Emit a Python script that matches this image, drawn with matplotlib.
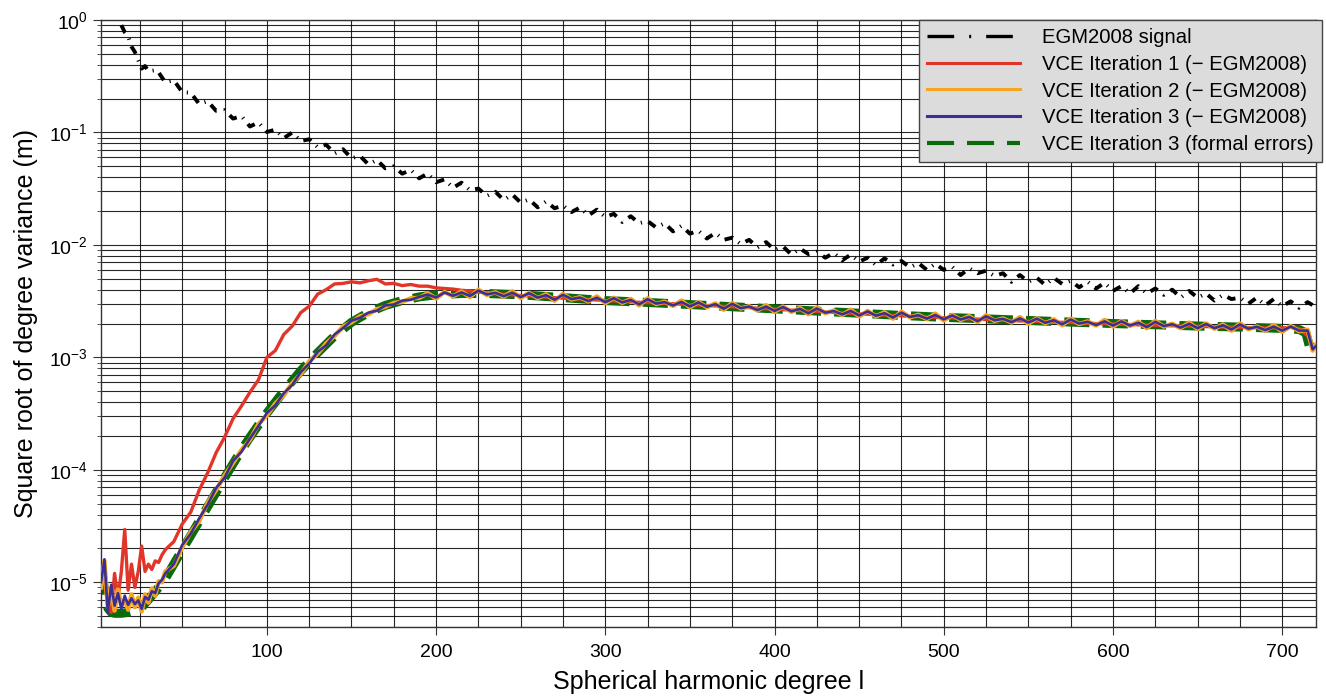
import numpy as np
import matplotlib
matplotlib.use('Agg')
import matplotlib.pyplot as plt
from matplotlib.lines import Line2D
from matplotlib.ticker import MultipleLocator, LogLocator, NullFormatter

plt.rcParams['font.family'] = ['Liberation Sans', 'DejaVu Sans']
plt.rcParams['mathtext.fontset'] = 'custom'
plt.rcParams['mathtext.rm'] = 'Liberation Sans'
plt.rcParams['mathtext.it'] = 'Liberation Sans:italic'
plt.rcParams['mathtext.bf'] = 'Liberation Sans:bold'

# ---- degree axes for each curve
deg_sig = np.r_[14:31:2, 35:721:5]
deg_vce = np.r_[2:41:2, 45:716:5, 718, 720]
deg_formal = [2, 3, 4, 5, 6, 8, 10, 14, 18, 22, 26, 30, 35, 40, 45, 50, 55, 60, 65, 70,
              75, 80, 85, 90, 95, 100, 110, 120, 130, 140, 150, 160, 170, 180, 190, 200,
              215, 230, 250, 275, 300, 325, 350, 375, 400, 425, 450, 475, 500, 525, 550,
              575, 600, 625, 650, 675, 700, 710, 714, 717, 720]

# EGM2008 signal (m)
egm_signal = [0.90, 0.78, 0.72, 0.58, 0.52, 0.44, 0.37, 0.39, 0.35,
              0.360, 0.279, 0.292, 0.228, 0.226, 0.179, 0.190, 0.156, 0.158, 0.133,
              0.140, 0.113, 0.123, 0.101, 0.106, 0.089, 0.100, 0.084, 0.087, 0.074,
              0.078, 0.065, 0.071, 0.059, 0.062, 0.052, 0.057, 0.048, 0.050, 0.043,
              0.0466, 0.0391, 0.0432, 0.0361, 0.0383, 0.0322, 0.0358, 0.0307, 0.0317, 0.0273,
              0.0297, 0.0251, 0.0281, 0.0238, 0.0254, 0.0216, 0.0244, 0.0212, 0.0224, 0.0196,
              0.0215, 0.0183, 0.0206, 0.0177, 0.0189, 0.0160, 0.0180, 0.0156, 0.0163, 0.0143,
              0.0156, 0.0132, 0.0148, 0.0126, 0.0134, 0.0114, 0.0128, 0.0111, 0.0116, 0.0102,
              0.0111, 0.0095, 0.0106, 0.0090, 0.0097, 0.0082, 0.0093, 0.0083, 0.0087, 0.0077,
              0.0085, 0.0073, 0.0082, 0.0071, 0.0077, 0.0066, 0.0076, 0.0067, 0.0072, 0.0063,
              0.0069, 0.0060, 0.0068, 0.0060, 0.0064, 0.0054, 0.0062, 0.0056, 0.0059, 0.0053,
              0.0056, 0.0047, 0.0054, 0.0047, 0.0051, 0.0044, 0.0051, 0.0045, 0.0048, 0.0042,
              0.0047, 0.0041, 0.0046, 0.0039, 0.0043, 0.0037, 0.0043, 0.0037, 0.0041, 0.0036,
              0.0040, 0.0034, 0.0039, 0.0034, 0.0037, 0.0032, 0.0036, 0.0033, 0.0034, 0.0030,
              0.0034, 0.0029, 0.0033, 0.00285, 0.00315, 0.00276, 0.0031, 0.0028]

# VCE iteration 1 minus EGM2008
vce_it1 = [9.0e-6, 1.15e-5, 6.0e-6, 5.4e-6, 1.2e-5, 7.2e-6, 1.25e-5, 2.95e-5, 8.5e-6, 1.45e-5,
           9.0e-6, 1.25e-5, 2.1e-5, 1.25e-5, 1.45e-5, 1.3e-5, 1.55e-5, 1.5e-5, 1.75e-5, 1.95e-5,
           2.3e-5, 3.3e-5, 4.2e-5, 6.6e-5, 9.4e-5, 1.42e-4, 1.95e-4, 2.85e-4, 3.7e-4, 4.9e-4,
           6.3e-4, 1.0e-3, 1.15e-3, 1.6e-3, 1.9e-3, 2.5e-3, 2.85e-3, 3.65e-3, 4.0e-3, 4.5e-3,
           4.55e-3, 4.7e-3, 4.6e-3, 4.8e-3, 4.95e-3, 4.5e-3, 4.55e-3, 4.35e-3, 4.45e-3, 4.3e-3,
           4.3e-3, 4.15e-3, 4.1e-3, 4.05e-3, 3.95e-3, 3.9e-3, 3.8e-3, 3.75e-3, 3.7e-3, 3.65e-3,
           3.6e-3, 3.55e-3, 3.52e-3, 3.47e-3, 3.44e-3, 3.4e-3, 3.36e-3, 3.32e-3, 3.3e-3, 3.27e-3,
           3.24e-3, 3.2e-3, 3.18e-3, 3.15e-3, 3.12e-3, 3.09e-3, 3.07e-3, 3.04e-3, 3.02e-3, 3.0e-3,
           2.97e-3, 2.94e-3, 2.92e-3, 2.89e-3, 2.87e-3, 2.84e-3, 2.82e-3, 2.79e-3, 2.77e-3, 2.74e-3,
           2.71e-3, 2.69e-3, 2.66e-3, 2.63e-3, 2.61e-3, 2.58e-3, 2.56e-3, 2.53e-3, 2.51e-3, 2.49e-3,
           2.47e-3, 2.44e-3, 2.42e-3, 2.4e-3, 2.38e-3, 2.36e-3, 2.34e-3, 2.32e-3, 2.3e-3, 2.29e-3,
           2.27e-3, 2.25e-3, 2.24e-3, 2.22e-3, 2.2e-3, 2.19e-3, 2.17e-3, 2.16e-3, 2.14e-3, 2.13e-3,
           2.11e-3, 2.1e-3, 2.09e-3, 2.07e-3, 2.06e-3, 2.05e-3, 2.04e-3, 2.02e-3, 2.01e-3, 2.0e-3,
           1.99e-3, 1.98e-3, 1.97e-3, 1.96e-3, 1.95e-3, 1.94e-3, 1.93e-3, 1.92e-3, 1.91e-3, 1.9e-3,
           1.89e-3, 1.89e-3, 1.88e-3, 1.87e-3, 1.86e-3, 1.86e-3, 1.85e-3, 1.84e-3, 1.84e-3, 1.83e-3,
           1.83e-3, 1.83e-3, 1.85e-3, 1.8e-3, 1.55e-3,
           1.3e-3, 1.25e-3]

# VCE iteration 2 minus EGM2008
vce_it2 = [9.0e-6, 1.55e-5, 6.0e-6, 8.8e-6, 5.6e-6, 8.6e-6, 6.2e-6, 7.0e-6, 5.7e-6, 7.8e-6,
           6.0e-6, 7.3e-6, 5.5e-6, 7.8e-6, 6.6e-6, 8.8e-6, 7.6e-6, 1.02e-5, 1.0e-5, 1.25e-5,
           1.4e-5, 2.05e-5, 2.8e-5, 3.5e-5, 5.1e-5, 6.6e-5, 8.9e-5, 1.15e-4, 1.5e-4, 1.85e-4,
           2.55e-4, 3.05e-4, 3.9e-4, 4.6e-4, 5.9e-4, 7.1e-4, 9.2e-4, 1.08e-3, 1.33e-3, 1.55e-3,
           1.88e-3, 2.05e-3, 2.32e-3, 2.42e-3, 2.68e-3, 2.82e-3, 3.05e-3, 3.12e-3, 3.35e-3, 3.38e-3,
           3.72e-3, 3.34e-3, 3.82e-3, 3.49e-3, 3.85e-3, 3.44e-3, 4.00e-3, 3.59e-3, 3.79e-3, 3.47e-3,
           3.87e-3, 3.37e-3, 3.75e-3, 3.36e-3, 3.64e-3, 3.19e-3, 3.67e-3, 3.27e-3, 3.43e-3, 3.14e-3,
           3.49e-3, 3.04e-3, 3.39e-3, 3.05e-3, 3.31e-3, 2.90e-3, 3.35e-3, 2.98e-3, 3.13e-3, 2.87e-3,
           3.20e-3, 2.78e-3, 3.11e-3, 2.79e-3, 3.02e-3, 2.65e-3, 3.05e-3, 2.72e-3, 2.85e-3, 2.61e-3,
           2.91e-3, 2.54e-3, 2.83e-3, 2.54e-3, 2.75e-3, 2.42e-3, 2.78e-3, 2.47e-3, 2.61e-3, 2.38e-3,
           2.66e-3, 2.31e-3, 2.59e-3, 2.32e-3, 2.52e-3, 2.21e-3, 2.55e-3, 2.27e-3, 2.39e-3, 2.19e-3,
           2.45e-3, 2.13e-3, 2.39e-3, 2.15e-3, 2.33e-3, 2.06e-3, 2.37e-3, 2.11e-3, 2.22e-3, 2.04e-3,
           2.28e-3, 1.99e-3, 2.23e-3, 2.01e-3, 2.18e-3, 1.93e-3, 2.21e-3, 1.98e-3, 2.09e-3, 1.92e-3,
           2.15e-3, 1.88e-3, 2.11e-3, 1.90e-3, 2.07e-3, 1.82e-3, 2.11e-3, 1.88e-3, 1.99e-3, 1.82e-3,
           2.04e-3, 1.79e-3, 2.00e-3, 1.80e-3, 1.96e-3, 1.73e-3, 2.00e-3, 1.78e-3, 1.88e-3, 1.73e-3,
           1.94e-3, 1.69e-3, 1.90e-3, 1.71e-3, 1.76e-3,
           1.15e-3, 1.3e-3]

# VCE iteration 3 minus EGM2008
vce_it3 = [1.0e-5, 1.6e-5, 5.4e-6, 9.5e-6, 6.2e-6, 8.0e-6, 5.8e-6, 7.6e-6, 6.3e-6, 7.2e-6,
           6.4e-6, 6.9e-6, 5.8e-6, 7.4e-6, 7.0e-6, 8.3e-6, 8.0e-6, 9.8e-6, 1.05e-5, 1.2e-5,
           1.45e-5, 2.15e-5, 2.7e-5, 3.7e-5, 4.9e-5, 6.9e-5, 8.5e-5, 1.2e-4, 1.45e-4, 1.9e-4,
           2.45e-4, 3.2e-4, 3.75e-4, 4.8e-4, 5.7e-4, 7.4e-4, 8.8e-4, 1.12e-3, 1.28e-3, 1.6e-3,
           1.82e-3, 2.12e-3, 2.25e-3, 2.5e-3, 2.6e-3, 2.9e-3, 2.95e-3, 3.2e-3, 3.25e-3, 3.45e-3,
           3.62e-3, 3.41e-3, 3.78e-3, 3.53e-3, 3.78e-3, 3.52e-3, 3.92e-3, 3.63e-3, 3.75e-3, 3.50e-3,
           3.76e-3, 3.44e-3, 3.72e-3, 3.40e-3, 3.57e-3, 3.26e-3, 3.60e-3, 3.30e-3, 3.40e-3, 3.17e-3,
           3.39e-3, 3.10e-3, 3.36e-3, 3.08e-3, 3.24e-3, 2.96e-3, 3.29e-3, 3.01e-3, 3.10e-3, 2.90e-3,
           3.11e-3, 2.84e-3, 3.08e-3, 2.82e-3, 2.97e-3, 2.71e-3, 2.99e-3, 2.74e-3, 2.83e-3, 2.64e-3,
           2.83e-3, 2.59e-3, 2.80e-3, 2.57e-3, 2.70e-3, 2.47e-3, 2.72e-3, 2.50e-3, 2.58e-3, 2.41e-3,
           2.59e-3, 2.36e-3, 2.56e-3, 2.35e-3, 2.47e-3, 2.26e-3, 2.50e-3, 2.29e-3, 2.37e-3, 2.21e-3,
           2.38e-3, 2.18e-3, 2.36e-3, 2.17e-3, 2.29e-3, 2.10e-3, 2.32e-3, 2.14e-3, 2.20e-3, 2.06e-3,
           2.22e-3, 2.04e-3, 2.21e-3, 2.03e-3, 2.14e-3, 1.97e-3, 2.17e-3, 2.00e-3, 2.07e-3, 1.94e-3,
           2.09e-3, 1.92e-3, 2.09e-3, 1.92e-3, 2.03e-3, 1.86e-3, 2.07e-3, 1.90e-3, 1.97e-3, 1.84e-3,
           1.99e-3, 1.82e-3, 1.98e-3, 1.82e-3, 1.93e-3, 1.77e-3, 1.96e-3, 1.80e-3, 1.87e-3, 1.75e-3,
           1.88e-3, 1.73e-3, 1.88e-3, 1.73e-3, 1.73e-3,
           1.18e-3, 1.26e-3]

# VCE iteration 3 formal errors
vce_formal = [1.3e-5, 1.1e-5, 8.5e-6, 6.8e-6, 5.9e-6, 5.4e-6, 5.3e-6, 5.3e-6, 5.4e-6, 5.6e-6,
              6.0e-6, 7.0e-6, 8.6e-6, 1.08e-5, 1.45e-5, 1.95e-5, 2.6e-5, 3.5e-5, 4.7e-5, 6.3e-5,
              8.5e-5, 1.13e-4, 1.5e-4, 1.95e-4, 2.5e-4, 3.2e-4, 5.0e-4, 7.6e-4, 1.1e-3, 1.55e-3,
              2.05e-3, 2.5e-3, 2.9e-3, 3.2e-3, 3.45e-3, 3.6e-3, 3.7e-3, 3.7e-3, 3.6e-3, 3.4e-3,
              3.2e-3, 3.08e-3, 2.95e-3, 2.82e-3, 2.7e-3, 2.58e-3, 2.47e-3, 2.36e-3, 2.27e-3, 2.2e-3,
              2.13e-3, 2.06e-3, 2.0e-3, 1.95e-3, 1.9e-3, 1.86e-3, 1.81e-3, 1.77e-3, 1.65e-3, 1.1e-3,
              1.2e-3]

labels = ['EGM2008 signal',
          'VCE Iteration 1 (\u2212 EGM2008)',
          'VCE Iteration 2 (\u2212 EGM2008)',
          'VCE Iteration 3 (\u2212 EGM2008)',
          'VCE Iteration 3 (formal errors)']
colors = ['black', '#e2352a', '#f7a51f', '#3b2e96', '#0a6b0a']

fig = plt.figure(figsize=(13.26, 6.96), dpi=100)
ax = fig.add_axes([0.0762, 0.0991, 0.9163, 0.8721])

ax.plot(deg_formal, vce_formal, color=colors[4], lw=6.5, dashes=(2.8, 1.45), zorder=2)
ax.plot(deg_vce, vce_it1, color=colors[1], lw=2.4, zorder=3)
ax.plot(deg_vce, vce_it2, color=colors[2], lw=3.2, zorder=4)
ax.plot(deg_vce, vce_it3, color=colors[3], lw=1.9, zorder=5)
ax.plot(deg_sig, egm_signal, color='black', lw=2.8, dashes=(2.2, 1.8, 0.3, 1.8), zorder=6)

ax.set_yscale('log')
ax.set_xlim(2, 720)
ax.set_ylim(4e-6, 1)

ax.xaxis.set_major_locator(MultipleLocator(100))
ax.xaxis.set_minor_locator(MultipleLocator(25))
ax.yaxis.set_major_locator(LogLocator(base=10, numticks=12))
ax.yaxis.set_minor_locator(LogLocator(base=10, subs=np.arange(2, 10), numticks=12))
ax.yaxis.set_minor_formatter(NullFormatter())

ax.grid(True, which='both', color='black', lw=0.8, alpha=0.85)
ax.set_axisbelow(True)
ax.tick_params(axis='both', which='major', labelsize=14, length=6, direction='out', color='#333333')
ax.tick_params(axis='x', which='major', pad=6)
ax.tick_params(axis='x', which='minor', length=0)
ax.tick_params(axis='y', which='minor', length=3, color='#333333')
for s in ax.spines.values():
    s.set_color('#333333')
    s.set_linewidth(1.0)

ax.set_xlabel('Spherical harmonic degree l', fontsize=18, labelpad=7)
ax.set_ylabel('Square root of degree variance (m)', fontsize=18, labelpad=8)

# legend handles (longer dash pattern for the signal entry)
handles = [Line2D([], [], color='black', lw=2.4, dashes=(8, 4.5, 0.6, 4.5)),
           Line2D([], [], color=colors[1], lw=2.2),
           Line2D([], [], color=colors[2], lw=2.2),
           Line2D([], [], color=colors[3], lw=2.2),
           Line2D([], [], color=colors[4], lw=3.0, dashes=(6.5, 3.1))]
leg = ax.legend(handles, labels, loc='upper right', bbox_to_anchor=(1.005, 1.0),
                borderaxespad=0, fontsize=14.6, handlelength=4.6, handletextpad=1.1,
                labelspacing=0.38, fancybox=False, framealpha=1, borderpad=0.4)
leg.get_frame().set_facecolor('#dcdcdc')
leg.get_frame().set_edgecolor('#444444')
leg.get_frame().set_linewidth(1.0)
leg.set_zorder(10)

fig.savefig('out.png', dpi=100)
